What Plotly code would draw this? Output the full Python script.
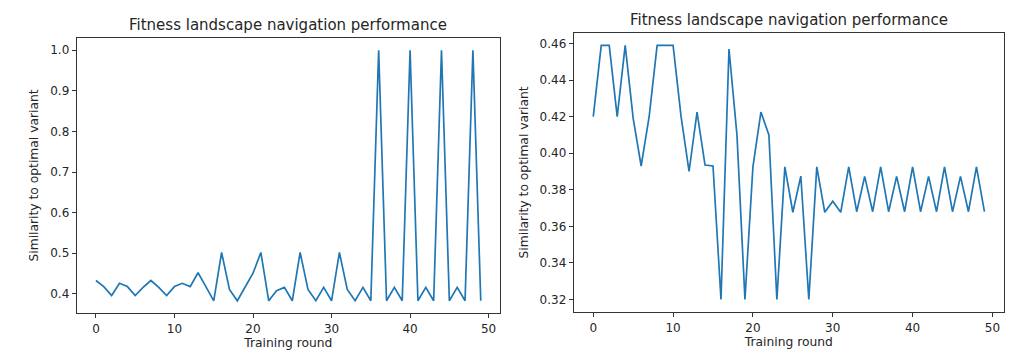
import plotly.graph_objects as go
from plotly.subplots import make_subplots

rounds = list(range(50))

similarity_run1 = [0.433, 0.418, 0.396, 0.426, 0.418, 0.396, 0.416, 0.433, 0.416, 0.396,
                   0.418, 0.426, 0.418, 0.452, 0.418, 0.383, 0.502, 0.411, 0.383, 0.416,
                   0.451, 0.502, 0.383, 0.408, 0.416, 0.383, 0.502, 0.411, 0.383, 0.416,
                   0.383, 0.502, 0.411, 0.383, 0.416, 0.383, 1.0, 0.383, 0.416, 0.383,
                   1.0, 0.383, 0.416, 0.383, 1.0, 0.383, 0.416, 0.383, 1.0, 0.383]

similarity_run2 = [0.420, 0.459, 0.459, 0.420, 0.459, 0.419, 0.393, 0.420, 0.459, 0.459,
                   0.459, 0.420, 0.390, 0.4225, 0.3935, 0.393, 0.320, 0.457, 0.410, 0.320,
                   0.3925, 0.4225, 0.410, 0.320, 0.3925, 0.3677, 0.3875, 0.320, 0.3925, 0.3677,
                   0.3737, 0.3677, 0.3925, 0.368, 0.3873, 0.368, 0.3925, 0.368, 0.3873, 0.368,
                   0.3925, 0.368, 0.3873, 0.368, 0.3925, 0.368, 0.3873, 0.368, 0.3925, 0.368]

title_text = "Fitness landscape navigation performance"
x_label = "Training round"
y_label = "Similarity to optimal variant"

left_yticks = [0.4, 0.5, 0.6, 0.7, 0.8, 0.9, 1.0]
right_yticks = [0.32, 0.34, 0.36, 0.38, 0.40, 0.42, 0.44, 0.46]
xticks = [0, 10, 20, 30, 40, 50]

line_color = "#1f77b4"
font_family = "DejaVu Sans"
text_color = "#262626"

fig = make_subplots(rows=1, cols=2)
fig.add_trace(go.Scatter(x=rounds, y=similarity_run1, mode="lines",
                         line=dict(color=line_color, width=1.7), showlegend=False), row=1, col=1)
fig.add_trace(go.Scatter(x=rounds, y=similarity_run2, mode="lines",
                         line=dict(color=line_color, width=1.7), showlegend=False), row=1, col=2)

W, H = 1023, 361
OFF = 8  # page body margin offset
L1 = (76.7 - OFF, 500.0 - OFF, 37.7 - OFF, 313.3 - OFF)
L2 = (573.7 - OFF, 1004.0 - OFF, 32.5 - OFF, 312.3 - OFF)

def dom(box):
    x0, x1, y0, y1 = box
    return [x0 / W, x1 / W], [1 - y1 / H, 1 - y0 / H]

xd1, yd1 = dom(L1)
xd2, yd2 = dom(L2)

axis_common = dict(showgrid=False, zeroline=False, showline=True, mirror=True,
                   linecolor="#333333", linewidth=1, ticks="outside", ticklen=4,
                   tickcolor="#333333", tickwidth=1,
                   tickfont=dict(family=font_family, size=12, color=text_color))

fig.update_xaxes(axis_common)
fig.update_yaxes(axis_common)

lab_font = dict(family=font_family, size=12.3, color=text_color)

fig.update_layout(
    xaxis=dict(domain=xd1, range=[-2.45, 51.45], tickvals=xticks,
               title=dict(text=x_label, font=lab_font, standoff=2)),
    yaxis=dict(domain=yd1, range=[0.3522, 1.0309], tickvals=left_yticks, tickformat=".1f",
               title=dict(text=y_label, font=lab_font, standoff=8)),
    xaxis2=dict(domain=xd2, range=[-2.45, 51.45], tickvals=xticks,
                title=dict(text=x_label, font=lab_font, standoff=2)),
    yaxis2=dict(domain=yd2, range=[0.3130, 0.4660], tickvals=right_yticks, tickformat=".2f",
                title=dict(text=y_label, font=lab_font, standoff=8)),
    width=W, height=H,
    margin=dict(l=0, r=0, t=0, b=0),
    paper_bgcolor="white", plot_bgcolor="white",
    font=dict(family=font_family, color=text_color),
    annotations=[
        dict(text=title_text, x=(L1[0] + L1[1]) / 2 / W, y=1 - (25 - OFF) / H, xref="paper", yref="paper",
             xanchor="center", yanchor="middle", showarrow=False,
             font=dict(family=font_family, size=15, color=text_color)),
        dict(text=title_text, x=(L2[0] + L2[1]) / 2 / W, y=1 - (19.5 - OFF) / H, xref="paper", yref="paper",
             xanchor="center", yanchor="middle", showarrow=False,
             font=dict(family=font_family, size=15, color=text_color)),
    ],
)

fig.write_html("out.html")
